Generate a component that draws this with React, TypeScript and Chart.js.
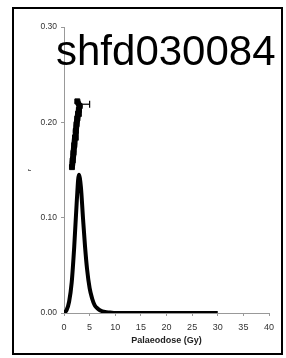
import React, { useEffect, useRef } from "react";
import { Chart, registerables } from "chart.js";

Chart.register(...registerables);

const xTicks = [0, 5, 10, 15, 20, 25, 30, 35, 40];
const yTicks = [0, 0.1, 0.2, 0.3];

const curveX = [0, 0.5, 1, 1.5, 2, 2.5, 2.9, 3.3, 3.7, 4.1, 4.5, 5, 5.5, 6, 6.5, 7, 8, 9, 10, 15, 20, 25, 30];
const curveY = [0, 0.003, 0.012, 0.032, 0.07, 0.118, 0.145, 0.132, 0.1, 0.07, 0.046, 0.026, 0.015, 0.008, 0.005, 0.003, 0.001, 0.0005, 0, 0, 0, 0, 0];

const doseX = [1.55, 1.7, 1.85, 2.0, 2.15, 2.3, 2.45, 2.6, 2.75, 2.9, 3.05, 2.6];
const doseY = [0.153, 0.16, 0.168, 0.176, 0.184, 0.191, 0.198, 0.204, 0.209, 0.213, 0.217, 0.222];

const errX = [2.6, 5.0];
const errY = [0.219, 0.219];

const title = "shfd030084";
const xTitle = "Palaeodose (Gy)";
const yTitle = "r";

export default function App() {
  const ref = useRef<HTMLCanvasElement | null>(null);

  useEffect(() => {
    if (!ref.current) return;
    const chart = new Chart(ref.current, {
      type: "line",
      data: {
        datasets: [
          {
            data: curveX.map((x, i) => ({ x, y: curveY[i] })),
            borderColor: "#000",
            borderWidth: 4,
            pointRadius: 0,
            cubicInterpolationMode: "monotone",
            fill: false,
          },
          {
            data: doseX.map((x, i) => ({ x, y: doseY[i] })),
            borderColor: "#000",
            backgroundColor: "#000",
            borderWidth: 6,
            pointStyle: "rect",
            pointRadius: 3.5,
            pointBorderWidth: 1,
            tension: 0,
          },
          {
            data: errX.map((x, i) => ({ x, y: errY[i] })),
            borderColor: "#000",
            borderWidth: 1.2,
            pointStyle: "line",
            pointRotation: 90,
            pointRadius: [0, 3.5],
            pointBorderWidth: 1.2,
          },
        ],
      },
      options: {
        animation: false,
        responsive: false,
        maintainAspectRatio: false,
        layout: { padding: { left: 26, right: 17, top: 27, bottom: 12 } },
        plugins: { legend: { display: false }, tooltip: { enabled: false } },
        scales: {
          x: {
            type: "linear",
            min: 0,
            max: 40,
            afterBuildTicks: (s: any) => {
              s.ticks = xTicks.map((v) => ({ value: v }));
            },
            afterFit: (s: any) => {
              s.height = 33;
            },
            ticks: {
              color: "#333",
              font: { family: "Liberation Sans, Arial", size: 9 },
              padding: 6,
              maxRotation: 0,
            },
            grid: { drawOnChartArea: false, drawTicks: true, tickLength: 3, color: "#999" },
            border: { display: true, color: "#999", width: 1 },
            title: {
              display: true,
              text: xTitle,
              color: "#222",
              font: { family: "Liberation Sans, Arial", size: 9, weight: "bold" },
              padding: { top: 0, bottom: 0 },
            },
          },
          y: {
            type: "linear",
            min: 0,
            max: 0.3,
            afterBuildTicks: (s: any) => {
              s.ticks = yTicks.map((v) => ({ value: v }));
            },
            afterFit: (s: any) => {
              s.width = 38;
            },
            ticks: {
              color: "#333",
              font: { family: "Liberation Sans, Arial", size: 8.5 },
              padding: 4,
              callback: (v: any) => Number(v).toFixed(2),
            },
            grid: { drawOnChartArea: false, drawTicks: true, tickLength: 3, color: "#999" },
            border: { display: true, color: "#999", width: 1 },
            title: {
              display: true,
              text: yTitle,
              color: "#444",
              font: { family: "Liberation Sans, Arial", size: 6, weight: "bold" },
              padding: { top: 0, bottom: 0 },
            },
          },
        },
      },
    });
    return () => chart.destroy();
  }, []);

  return (
    <div style={{ position: "absolute", left: 0, top: 0, width: 286, height: 358, background: "#fff" }}>
      <canvas ref={ref} width={286} height={358} style={{ position: "absolute", left: 0, top: 0 }} />
      <div
        style={{
          position: "absolute",
          left: 12,
          top: 7,
          width: 267,
          height: 344,
          border: "2px solid #000",
          pointerEvents: "none",
        }}
      />
      <div
        style={{
          position: "absolute",
          left: 56,
          top: 28,
          fontFamily: "Liberation Sans, Arial, sans-serif",
          fontSize: 42,
          lineHeight: "46px",
          color: "#000",
          whiteSpace: "nowrap",
        }}
      >
        {title}
      </div>
    </div>
  );
}
